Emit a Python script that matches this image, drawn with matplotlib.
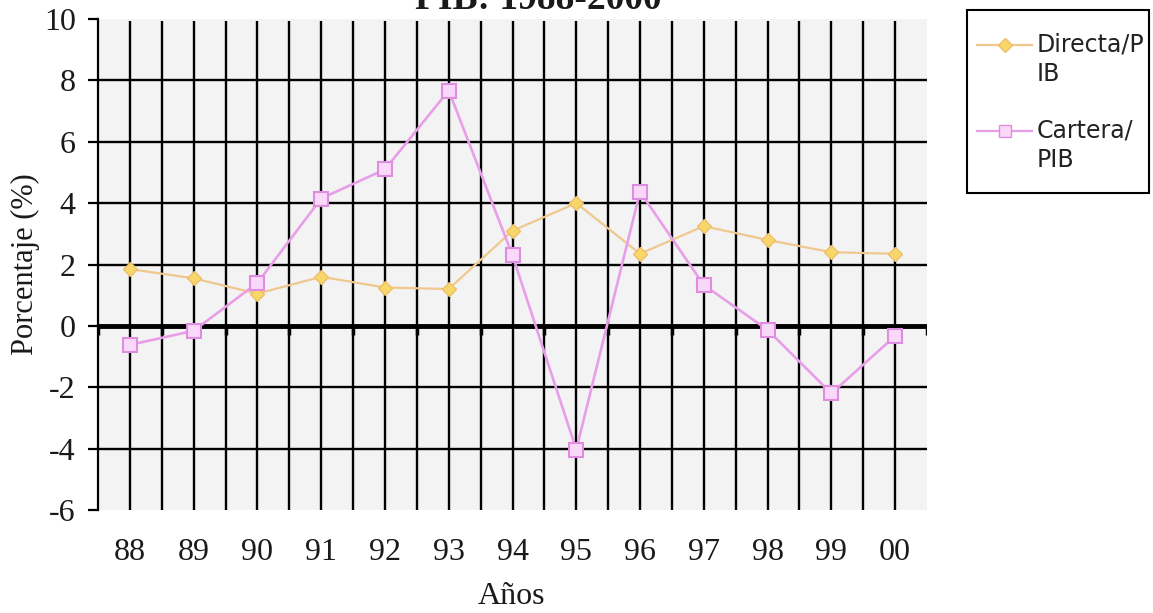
"""Inversión extranjera directa y de cartera como % del PIB, 1988-2000."""
import matplotlib
matplotlib.use("Agg")
import matplotlib.pyplot as plt  # noqa: E402
from matplotlib.lines import Line2D  # noqa: E402
from matplotlib.patches import Rectangle  # noqa: E402
import numpy as np  # noqa: E402

YEARS = ["88", "89", "90", "91", "92", "93", "94", "95", "96", "97", "98", "99", "00"]
DIRECTA = [1.85, 1.55, 1.05, 1.6, 1.25, 1.2, 3.1, 4.0, 2.35, 3.25, 2.8, 2.4, 2.35]
CARTERA = [-0.62, -0.16, 1.4, 4.15, 5.1, 7.67, 2.3, -4.03, 4.37, 1.33, -0.13, -2.2, -0.33]
YTICKS = [-6, -4, -2, 0, 2, 4, 6, 8, 10]

W, H = 1153, 613
SERIF = "Liberation Serif"
SANS = "DejaVu Sans"
OR_LINE, OR_FACE, OR_EDGE = "#f0c88e", "#f7d66a", "#eebf6a"
PK_LINE, PK_FACE, PK_EDGE = "#e99ee9", "#f9d8f9", "#e08ce0"
plt.rcParams["axes.unicode_minus"] = False


def fx(px):
    return px / W


def fy(py):
    return 1 - py / H


def main():
    fig = plt.figure(figsize=(W / 100, H / 100), dpi=100)
    ax = fig.add_axes([fx(98), fy(510), fx(927) - fx(98), fy(19) - fy(510)])
    ax.set_facecolor("#f3f3f3")
    x = np.arange(len(YEARS))

    # grid: lines at category centres and at category boundaries
    vx = np.concatenate([x, x[:-1] + 0.5])
    ax.vlines(vx, -6, 9.95, color="black", lw=1.7, zorder=1)
    for yv in YTICKS[1:-1]:
        if yv != 0:
            ax.axhline(yv, color="black", lw=1.7, zorder=1)
    ax.axhline(0, color="black", lw=3.5, zorder=2)
    ax.vlines(np.arange(len(YEARS) + 1) - 0.5, -0.3, 0, color="black", lw=2.5, zorder=2)

    ax.plot(x, DIRECTA, color=OR_LINE, lw=1.6, marker="D", ms=7,
            mfc=OR_FACE, mec=OR_EDGE, zorder=4)
    ax.plot(x, CARTERA, color=PK_LINE, lw=1.9, marker="s", ms=10,
            mfc=PK_FACE, mec=PK_EDGE, mew=1.5, zorder=5)

    ax.set_xlim(-0.5, len(YEARS) - 0.5)
    ax.set_ylim(-6, 10)
    ax.set_yticks(YTICKS)
    ax.set_xticks(x)
    ax.set_xticklabels(YEARS)
    ax.tick_params(axis="x", length=0, pad=20)
    ax.tick_params(axis="y", length=7, width=1.6, pad=9)
    for lab in ax.get_xticklabels() + ax.get_yticklabels():
        lab.set_fontfamily(SERIF)
        lab.set_fontsize(23)
        lab.set_color("#1a1a1a")
    for sp in ("top", "right", "bottom"):
        ax.spines[sp].set_visible(False)
    ax.spines["left"].set_linewidth(1.6)
    ax.spines["left"].set_zorder(3)

    fig.text(fx(25), fy(264), "Porcentaje (%)", rotation=90, ha="center", va="center",
             fontsize=22, family=SERIF, color="#1a1a1a")
    fig.text(fx(512), fy(596), "Años", ha="center", va="center", fontsize=23,
             family=SERIF, color="#1a1a1a")
    fig.text(fx(538), fy(9), "PIB: 1988-2000", ha="center", va="baseline",
             fontsize=27, fontweight="bold", family=SERIF, color="#1a1a1a")

    # legend box drawn by hand so handles sit on the first text line
    fig.add_artist(Rectangle((fx(967), fy(193)), fx(1149) - fx(967), fy(10) - fy(193),
                             transform=fig.transFigure, fill=False, ec="black", lw=1.5))
    entries = [
        (45, ["Directa/P", "IB"], OR_LINE, "D", 7, OR_FACE, OR_EDGE),
        (131, ["Cartera/", "PIB"], PK_LINE, "s", 9, PK_FACE, PK_EDGE),
    ]
    for yy, lines, lc, mk, ms, mf, me in entries:
        fig.add_artist(Line2D([fx(977), fx(1032)], [fy(yy), fy(yy)], color=lc, lw=1.6,
                              transform=fig.transFigure))
        fig.add_artist(Line2D([fx(1005)], [fy(yy)], marker=mk, ms=ms, mfc=mf, mec=me,
                              ls="", transform=fig.transFigure))
        for i, t in enumerate(lines):
            fig.text(fx(1037), fy(yy + i * 29), t, ha="left", va="center",
                     fontsize=17, family=SANS, color="#222222")

    fig.savefig("out.png", dpi=100)


if __name__ == "__main__":
    main()
